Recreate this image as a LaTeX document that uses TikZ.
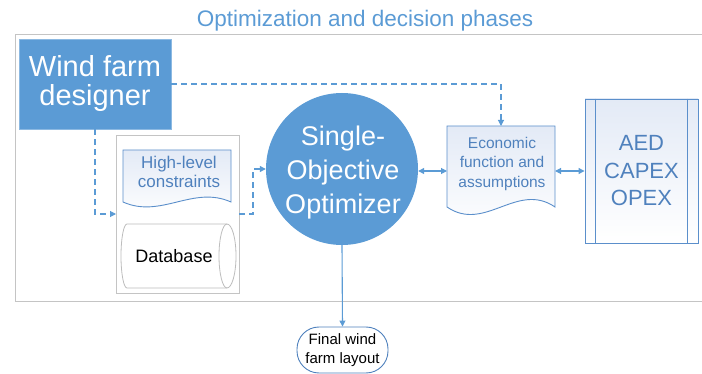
\documentclass[tikz,border=0pt]{standalone}
\usepackage{fontspec}
\setmainfont{Liberation Sans}
\usetikzlibrary{arrows.meta,calc}
\definecolor{mblue}{HTML}{5B9BD5}
\definecolor{tblue}{HTML}{4F81BD}
\definecolor{bblue}{HTML}{5B8FCB}
\definecolor{lblue}{HTML}{E3EAF6}
\definecolor{framec}{HTML}{C4C4C4}
\definecolor{dbgray}{HTML}{BDBDBD}
\begin{document}
\begin{tikzpicture}[x=1pt,y=-1pt,
  conn/.style={draw=mblue, line width=1.1pt},
  dsh/.style={dash pattern=on 6pt off 4pt},
  tip/.style={-{Triangle[length=6pt,width=6pt]}},
  dbl/.style={{Triangle[length=6pt,width=6pt]}-{Triangle[length=6pt,width=6pt]}},
  docshape/.style={draw=bblue, line width=0.9pt, top color=lblue, bottom color=white},
  anchorbox/.style={inner sep=0pt, outer sep=0pt},
  bluetext/.style={text=tblue, align=center}]
\useasboundingbox (0,0) rectangle (702,374);

% outer frame
\draw[framec, line width=0.9pt] (702,34) -- (15,34) -- (15,301) -- (702,301);

% title
\node[text=mblue, font=\fontsize{22.5}{27}\selectfont, anchor=base] (title) at (365,27) {Optimization and decision phases};

% designer
\node[fill=mblue, draw=mblue!70!white, line width=0.8pt, minimum width=152pt, minimum height=90pt,
      inner sep=0pt, text=white, align=center, font=\fontsize{29}{29}\selectfont] (designer) at (95,84) {Wind farm\\designer};

% container
\node[draw=framec, line width=0.9pt, top color=white, bottom color=white, minimum width=123pt, minimum height=158pt, anchorbox] (cont) at (177.5,214) {};

% high-level constraints document
\node[anchorbox, minimum width=108pt, minimum height=52pt] (hlc) at (177,176) {};
\path[docshape] (hlc.north west) -- (hlc.north east) -- (hlc.south east)
  .. controls ($(hlc.south east)+(-38,-17)$) and ($(hlc.south west)+(38,17)$) .. (hlc.south west) -- cycle;
\node[bluetext, font=\fontsize{17}{19}\selectfont] (hlctext) at (179,172) {High-level\\constraints};

% database
\path[draw=dbgray, line width=0.8pt, fill=white]
  (127,224) -- (227,224)
  .. controls (232,224) and (236,238.3) .. (236,256)
  .. controls (236,273.7) and (232,288) .. (227,288)
  -- (127,288)
  .. controls (123.7,288) and (121,273.7) .. (121,256)
  .. controls (121,238.3) and (123.7,224) .. (127,224) -- cycle;
\draw[dbgray, line width=0.8pt] (227,224) .. controls (222.6,224) and (219,238.3) .. (219,256)
  .. controls (219,273.7) and (222.6,288) .. (227,288);
\node[font=\fontsize{18}{20}\selectfont] (db) at (174,256.5) {Database};

% optimizer
\node[circle, fill=mblue, minimum size=152pt, inner sep=0pt] (opt) at (342,169) {};
\node[text=white, align=center, font=\fontsize{27}{34}\selectfont] (opttext) at (343,173) {Single-\\Objective\\Optimizer};

% economic document
\node[anchorbox, minimum width=108pt, minimum height=81pt] (econ) at (501,166.5) {};
\path[docshape] (econ.north west) -- (econ.north east) -- (econ.south east)
  .. controls ($(econ.south east)+(-38,-26)$) and ($(econ.south west)+(38,26)$) .. (econ.south west) -- cycle;
\node[bluetext, font=\fontsize{15.5}{19.5}\selectfont] (econtext) at (502,163.5) {Economic\\function and\\assumptions};

% AED box
\node[draw=bblue, line width=0.9pt, top color=lblue, bottom color=white, minimum width=113pt, minimum height=144pt,
      inner sep=0pt, bluetext, font=\fontsize{22}{27.5}\selectfont] (aed) at (641.5,171) {AED\\CAPEX\\OPEX};
\draw[bblue, line width=0.9pt] ($(aed.north west)+(11,0)$) -- ($(aed.south west)+(11,0)$);
\draw[bblue, line width=0.9pt] ($(aed.north east)+(-11,0)$) -- ($(aed.south east)+(-11,0)$);

% final layout
\node[draw=tblue, line width=0.9pt, fill=white, rounded corners=22pt, minimum width=91pt, minimum height=46pt,
      inner sep=1pt, align=center, font=\fontsize{15}{19}\selectfont] (final) at (342.5,350) {Final wind\\farm layout};

% connectors
\draw[conn, dsh, tip] (designer.east) -| (econ.north);
\draw[conn, dsh, tip] (designer.south) |- (cont.west);
\draw[conn, dsh, tip] (cont.east) -- ++(14,0) |- (opt.west);
\draw[conn, dbl] (opt.east |- aed.west) -- (econ.west |- aed.west);
\draw[conn, dbl] (econ.east |- aed.west) -- (aed.west);
\draw[conn, tip] (opt.south) -- (final.north);
\end{tikzpicture}
\end{document}
